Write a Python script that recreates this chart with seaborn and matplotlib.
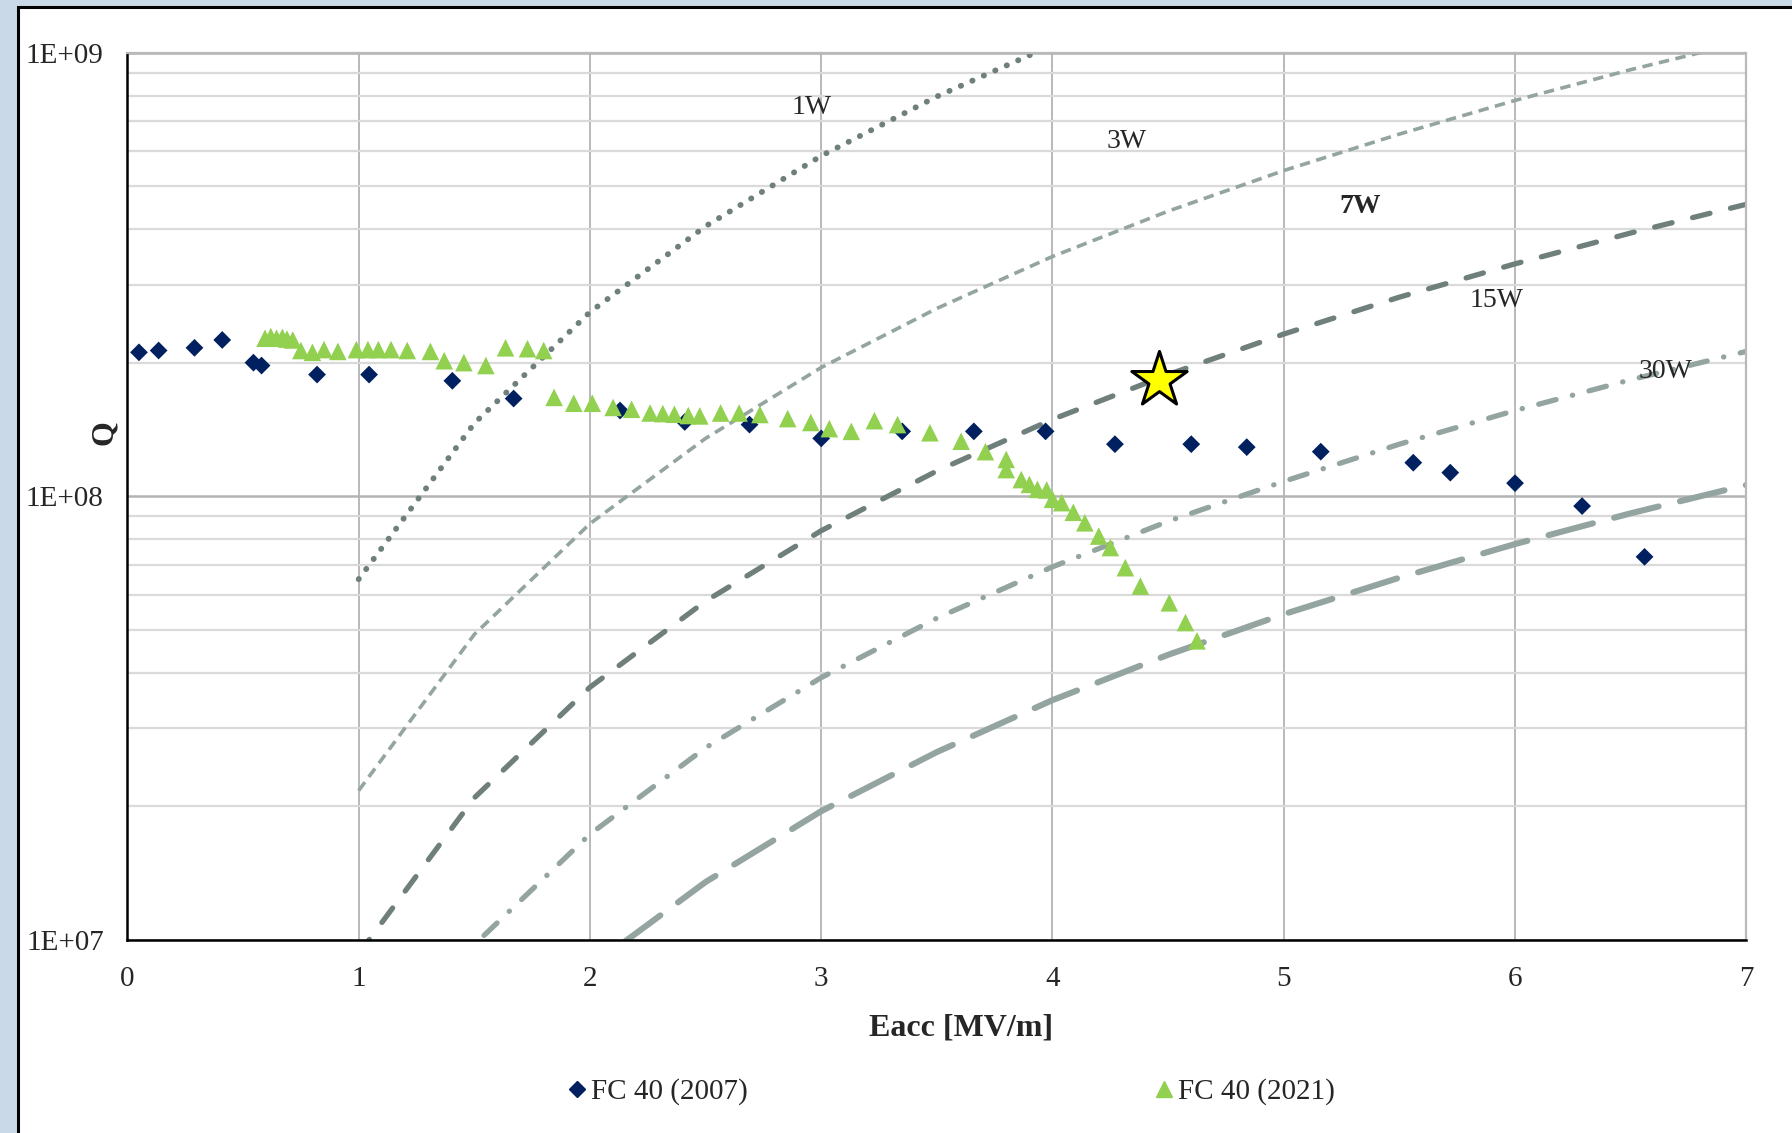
import numpy as np
import pandas as pd
import matplotlib
matplotlib.use("Agg")
import matplotlib.pyplot as plt
import seaborn as sns
from matplotlib.patches import Rectangle
from matplotlib.ticker import MultipleLocator, LogLocator, NullFormatter, FuncFormatter
from matplotlib.lines import Line2D

# FC 40 (2007) measurement
e_2007 = [0.05, 0.135, 0.29, 0.41, 0.545, 0.58, 0.82, 1.045, 1.405, 1.67, 2.13, 2.41,
          2.69, 3.00, 3.35, 3.66, 3.97, 4.27, 4.60, 4.84, 5.16, 5.56, 5.72, 6.00, 6.29, 6.56]
q_2007 = [2.11e8, 2.13e8, 2.16e8, 2.25e8, 2.00e8, 1.97e8, 1.88e8, 1.88e8, 1.82e8, 1.66e8, 1.56e8, 1.47e8,
          1.45e8, 1.35e8, 1.40e8, 1.40e8, 1.40e8, 1.31e8, 1.31e8, 1.29e8, 1.26e8, 1.19e8, 1.13e8, 1.07e8, 9.5e7, 7.3e7]

# FC 40 (2021) measurement
e_2021 = [0.595, 0.62, 0.645, 0.67, 0.69, 0.715, 0.75, 0.80, 0.85, 0.91, 0.99, 1.04, 1.085, 1.14,
          1.21, 1.31, 1.37, 1.455, 1.55, 1.635, 1.73, 1.80, 1.845, 1.93, 2.01, 2.10, 2.18, 2.26,
          2.315, 2.365, 2.425, 2.475, 2.565, 2.645, 2.735, 2.855, 2.955, 3.035, 3.13, 3.23, 3.33,
          3.47, 3.605, 3.71, 3.80, 3.80, 3.865, 3.90, 3.935, 3.975, 4.00, 4.04, 4.09, 4.14, 4.20,
          4.25, 4.315, 4.38, 4.505, 4.575, 4.625]
q_2021 = [2.27e8, 2.29e8, 2.27e8, 2.28e8, 2.26e8, 2.25e8, 2.13e8, 2.11e8, 2.14e8, 2.12e8, 2.14e8, 2.14e8, 2.14e8, 2.14e8,
          2.13e8, 2.12e8, 2.02e8, 2.00e8, 1.97e8, 2.16e8, 2.15e8, 2.13e8, 1.67e8, 1.62e8, 1.62e8, 1.585e8, 1.57e8, 1.54e8,
          1.535e8, 1.53e8, 1.52e8, 1.517e8, 1.54e8, 1.54e8, 1.528e8, 1.496e8, 1.466e8, 1.42e8, 1.40e8, 1.48e8, 1.45e8,
          1.39e8, 1.33e8, 1.26e8, 1.21e8, 1.148e8, 1.09e8, 1.063e8, 1.036e8, 1.033e8, 9.84e7, 9.67e7, 9.2e7, 8.71e7, 8.13e7,
          7.66e7, 6.9e7, 6.27e7, 5.75e7, 5.19e7, 4.72e7]

# target point
star_e = [4.46]
star_q = [1.83e8]

# constant-power lines
power_e = [1.0, 1.5, 2.0, 2.5, 3.0, 3.5, 4.0, 4.5, 5.0, 5.5, 6.0, 6.5, 7.0]
q_1w = [6.5e7, 1.46e8, 2.6e8, 4.06e8, 5.85e8, 7.96e8, 1.04e9]
q_3w = [2.17e7, 4.88e7, 8.67e7, 1.35e8, 1.95e8, 2.65e8, 3.47e8, 4.39e8, 5.42e8, 6.55e8, 7.8e8, 9.15e8, 1.06e9]
q_7w = [9.3e6, 2.09e7, 3.71e7, 5.8e7, 8.36e7, 1.14e8, 1.49e8, 1.88e8, 2.32e8, 2.81e8, 3.34e8, 3.92e8, 4.55e8]
q_15w = [4.33e6, 9.75e6, 1.73e7, 2.71e7, 3.9e7, 5.31e7, 6.93e7, 8.78e7, 1.08e8, 1.31e8, 1.56e8, 1.83e8, 2.12e8]
q_30w = [2.17e6, 4.88e6, 8.67e6, 1.35e7, 1.95e7, 2.65e7, 3.47e7, 4.39e7, 5.42e7, 6.55e7, 7.8e7, 9.15e7, 1.06e8]

power_labels = ["1W", "3W", "7W", "15W", "30W"]
label_e = [2.96, 4.32, 5.33, 5.92, 6.65]
label_q = [7.5e8, 6.3e8, 4.5e8, 2.76e8, 1.91e8]

sns.set_style("white")
plt.rcParams["font.family"] = ["Liberation Serif", "DejaVu Serif"]

fig = plt.figure(figsize=(17.92, 11.33), dpi=100)
fig.patch.set_facecolor("#c9d9e7")
fig.patches.append(Rectangle((0.0102, -0.02), 1.05, 0.0138 + 1.0, transform=fig.transFigure,
                             facecolor="white", edgecolor="black", linewidth=2.2, zorder=-5))

ax = fig.add_axes([0.0711, 0.1705, 0.9034, 0.7831])
ax.set_facecolor("white")
ax.set_yscale("log")

# power lines
dark = "#6f7f7c"
light = "#93a4a1"
sns.lineplot(x=power_e[:len(q_1w)], y=q_1w, ax=ax, color=dark, lw=4.2,
             linestyle=(0, (0.05, 2.1)), dash_capstyle="round", sort=False, estimator=None, zorder=2)
sns.lineplot(x=power_e, y=q_3w, ax=ax, color=light, lw=2.6,
             linestyle=(0, (2.9, 1.8)), sort=False, estimator=None, zorder=2)
sns.lineplot(x=power_e, y=q_7w, ax=ax, color=dark, lw=3.8,
             linestyle=(0, (3.4, 4.0)), dash_capstyle="round", sort=False, estimator=None, zorder=2)
sns.lineplot(x=power_e, y=q_15w, ax=ax, color=light, lw=3.8,
             linestyle=(0, (3.4, 3.2, 0.05, 3.2)), dash_capstyle="round", sort=False, estimator=None, zorder=2)
sns.lineplot(x=power_e, y=q_30w, ax=ax, color=light, lw=4.4,
             linestyle=(0, (7.5, 3.6)), dash_capstyle="round", sort=False, estimator=None, zorder=2)

for txt, x, y in zip(power_labels, label_e, label_q):
    ax.text(x, y, txt, fontsize=20, ha="center", va="center",
            fontweight="bold" if txt == "7W" else "normal", zorder=5)

# measurements
sns.scatterplot(x=e_2007, y=q_2007, ax=ax, marker="D", s=82, color="#002060",
                edgecolor="none", zorder=4)
sns.scatterplot(x=e_2021, y=q_2021, ax=ax, marker="^", s=160, color="#92d050",
                edgecolor="none", zorder=4)
sns.scatterplot(x=star_e, y=star_q, ax=ax, marker="*", s=1750, color="#ffff00",
                edgecolor="black", linewidth=2.2, zorder=6)

ax.set_xlim(0, 7)
ax.set_ylim(1e7, 1e9)

ax.xaxis.set_major_locator(MultipleLocator(1))
ax.xaxis.set_minor_locator(MultipleLocator(0.2))
ax.yaxis.set_major_locator(LogLocator(base=10))
ax.yaxis.set_minor_locator(LogLocator(base=10, subs=range(2, 10)))
ax.yaxis.set_minor_formatter(NullFormatter())
ax.yaxis.set_major_formatter(FuncFormatter(lambda v, _: "1E+%02d" % int(round(np.log10(v)))))

ax.grid(True, axis="x", which="major", color="#b9b9b9", lw=1.4, zorder=1)
ax.grid(True, axis="y", which="major", color="#b3b3b3", lw=1.8, zorder=1)
ax.grid(True, axis="y", which="minor", color="#dadada", lw=1.6, zorder=1)
ax.set_axisbelow(True)

ax.tick_params(axis="x", which="major", direction="inout", length=9, width=1.5,
               color="black", labelsize=21, pad=14)
ax.tick_params(axis="x", which="minor", direction="in", length=6, width=1.3, color="black")
ax.tick_params(axis="y", which="major", direction="out", length=6, width=1.5,
               color="black", labelsize=21, pad=11)
ax.tick_params(axis="y", which="minor", length=0)

for side in ["left", "bottom"]:
    ax.spines[side].set_color("black")
    ax.spines[side].set_linewidth(1.8)
for side in ["top", "right"]:
    ax.spines[side].set_color("#b9b9b9")
    ax.spines[side].set_linewidth(1.6)

ax.set_xlabel("Eacc [MV/m]", fontsize=23, fontweight="bold")
ax.xaxis.set_label_coords(0.515, -0.083)
ax.set_ylabel("Q", fontsize=23, fontweight="bold")
ax.yaxis.set_label_coords(-0.005, 0.572)

handles = [Line2D([], [], marker="D", color="#002060", linestyle="none", markersize=8),
           Line2D([], [], marker="^", color="#92d050", linestyle="none", markersize=12)]
fig.legend(handles, ["FC 40 (2007)", "FC 40 (2021)"], loc="center", ncol=2,
           bbox_to_anchor=(0.531, 0.0365), frameon=False, fontsize=21,
           handlelength=0.6, handletextpad=0.15, columnspacing=14.0)

fig.savefig("out.png", dpi=100, facecolor=fig.get_facecolor())
